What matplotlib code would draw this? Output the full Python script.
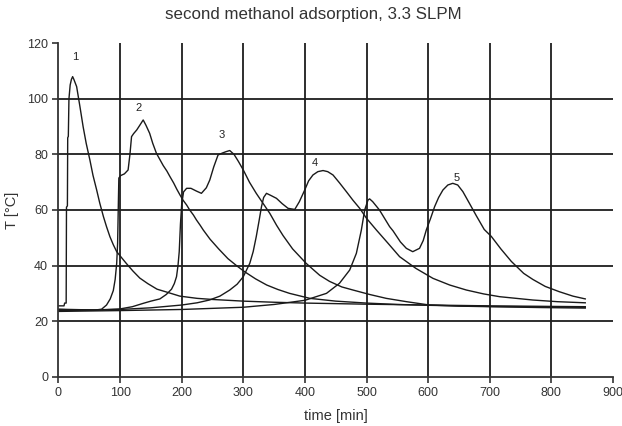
import matplotlib
matplotlib.use("Agg")
import matplotlib.pyplot as plt

plt.rcParams["font.family"] = ["Liberation Sans", "DejaVu Sans"]

# adsorption runs 1-5: time [min] and bed temperature [°C]
t1 = [0, 9, 10, 12.5, 13, 14.5, 15, 16, 17, 19, 21, 23, 25, 29.5, 35, 40, 45, 51, 56, 62,
      67, 73, 78, 83.5, 89, 94.5, 100, 110, 121, 132, 145, 160, 175, 197, 225, 250, 300,
      350, 400, 500, 600, 700, 800, 855]
T1 = [25.5, 25.5, 26.5, 26.5, 61, 61.5, 86, 86.5, 100, 105, 107, 108, 107, 104.4, 97, 90,
      84, 78, 72.5, 67.2, 62.5, 57.6, 54, 50.4, 47.5, 45, 43.5, 40.8, 38, 35.5, 33.5, 31.5,
      30.5, 29, 28.2, 27.8, 27.2, 26.8, 26.5, 26.1, 25.8, 25.5, 25.3, 25.2]

t2 = [0, 30, 60, 70, 78, 84, 89, 92, 94.5, 96, 97, 98, 101, 107, 113, 116, 118.6, 122,
      127, 132, 137.5, 142, 148, 153, 159, 165, 170, 176, 181, 187, 192, 197, 202, 208,
      213, 219, 224, 230, 235, 246, 260, 275, 290, 302, 320, 338, 356, 375, 408, 450, 500,
      550, 600, 700, 800, 855]
T2 = [24.2, 24, 24, 24.3, 25.8, 28, 31, 35, 40.8, 48, 60, 71.5, 72.4, 73, 74.4, 80, 86.4,
      87.5, 88.8, 90.5, 92.4, 90.5, 87.6, 84, 80.4, 78, 76, 74, 72, 69.7, 67.5, 65.5, 63.6,
      61.8, 60, 58.2, 56.4, 54.5, 52.8, 49.5, 46, 42.5, 39.8, 37.8, 35.2, 33, 31.4, 30,
      28.2, 27.2, 26.5, 26, 25.7, 25.3, 25.1, 25]

t3 = [0, 60, 100, 120, 137.5, 150, 164.6, 175, 183.5, 188, 191.6, 194, 196, 198, 200, 203,
      208, 215, 224, 232, 240, 245.6, 252, 259, 266, 272, 278, 285, 292, 300, 310, 321, 332,
      343, 354, 364.5, 380, 402, 424, 440, 460, 478, 505, 532, 565, 602, 650, 700, 780, 855]
T3 = [24.3, 24, 24.4, 25.2, 26.4, 27.2, 28, 29.6, 31.5, 33.5, 36, 40, 45, 55, 62, 66.5,
      67.8, 67.8, 66.8, 66, 68, 70.8, 75.5, 79.8, 80.5, 81, 81.4, 80, 77.5, 74.4, 70, 66,
      62.4, 58.8, 54.5, 50.8, 46, 40.8, 36.5, 34.3, 32.3, 31.2, 29.6, 28.2, 27, 25.8, 25.4,
      25.2, 24.9, 24.7]

t4 = [0, 100, 150, 200, 225, 245, 262, 278, 290, 300, 310.5, 316, 321, 325.5, 329.5, 333,
      337.6, 345, 353.8, 363, 372.6, 383.5, 391, 399.7, 406, 413, 421, 429.4, 437, 445.6,
      456, 467.3, 478, 488.9, 500, 516, 535, 553.7, 580, 607.8, 635, 662, 690, 716, 770,
      810, 855]
T4 = [23.8, 24.2, 24.8, 25.8, 26.6, 27.6, 29, 31.2, 33.3, 36, 40.8, 45, 50.4, 56, 61.2,
      64.5, 66, 65.2, 64.2, 62.3, 60.6, 60.2, 63, 67.2, 70.5, 72.6, 73.8, 74.2, 73.8, 72.6,
      69.8, 66.6, 63.5, 60.6, 57, 52.8, 48, 43.2, 39, 35.4, 33, 31.2, 29.8, 28.8, 27.6, 27,
      26.6]

t5 = [0, 100, 200, 300, 350, 400, 435, 456, 472.7, 483.5, 491.6, 497, 502.4, 505, 510, 521,
      537.5, 543, 555, 564.6, 575, 586, 592, 597, 604, 610.5, 617, 624, 632, 640, 648,
      656.4, 667, 678, 691, 702.5, 718, 735, 755, 770, 790, 812.8, 835, 855]
T5 = [23.5, 23.8, 24.2, 25, 26, 27.5, 30, 33.6, 38.4, 44.4, 52.8, 60, 63.6, 64, 63, 60,
      54, 52.5, 48.5, 46.2, 45, 46.2, 49, 52.8, 57, 61.2, 64.5, 67.2, 69, 69.6, 69, 66.6,
      62.4, 58, 53, 50.5, 46, 41.5, 37.2, 35, 32.5, 30.6, 29, 28]

runs = [(t1, T1), (t2, T2), (t3, T3), (t4, T4), (t5, T5)]
run_labels = ["1", "2", "3", "4", "5"]
label_t = [26.8, 130.5, 264.6, 415.9, 645.7]
label_T = [115.2, 96.8, 87, 77, 71.4]

xticks = [0, 100, 200, 300, 400, 500, 600, 700, 800, 900]
yticks = [0, 20, 40, 60, 80, 100, 120]

fig = plt.figure(figsize=(6.22, 4.26), dpi=100)
ax = fig.add_axes([0.094, 0.1157, 0.8915, 0.7827])

# interior grid only: no line on top (120) or at the right end (900)
ax.vlines(xticks[1:-1], yticks[0], yticks[-1], colors="#1e1e1e", linewidth=1.3, zorder=1)
ax.hlines(yticks[1:-1], xticks[0], xticks[-1], colors="#1e1e1e", linewidth=1.3, zorder=1)

for t, T in runs:
    ax.plot(t, T, color="#1a1a1a", linewidth=1.0, zorder=2)

for lab, x, y in zip(run_labels, label_t, label_T):
    ax.text(x, y, lab, fontsize=8, color="#222222", ha="center", va="center")

ax.set_xlim(0, 900)
ax.set_ylim(0, 120)
ax.set_xticks(xticks)
ax.set_yticks(yticks)
ax.tick_params(direction="out", length=4, width=1.2, colors="#333333", labelsize=9,
               labelcolor="#333333")
for side in ["top", "right"]:
    ax.spines[side].set_visible(False)
for side in ["left", "bottom"]:
    ax.spines[side].set_linewidth(1.3)
    ax.spines[side].set_color("#333333")

ax.set_xlabel("time [min]", fontsize=10.5, color="#333333")
ax.set_ylabel("T [°C]", fontsize=10.5, color="#333333")
ax.xaxis.set_label_coords(0.5, -0.097)
ax.yaxis.set_label_coords(-0.071, 0.5)

fig.text(0.504, 0.967, "second methanol adsorption, 3.3 SLPM", fontsize=12.2,
         color="#333333", ha="center", va="center")

fig.savefig("out.png", dpi=100)
